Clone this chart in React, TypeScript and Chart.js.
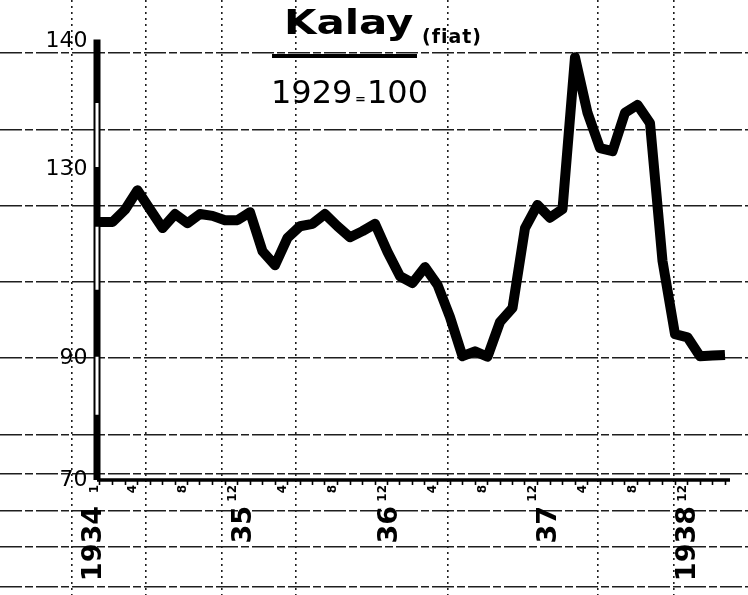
import React, { useEffect, useRef } from 'react';
import { Chart, registerables } from 'chart.js';

Chart.register(...registerables);

// Months counted from January 1934 (0 = 1934/1 ... 50 = 1938/3)
const monthIndex = [
  0, 1, 2, 3, 4, 5, 6, 7, 8, 9, 10, 11,
  12, 13, 14, 15, 16, 17, 18, 19, 20, 21, 22, 23,
  24, 25, 26, 27, 28, 29, 30, 31, 32, 33, 34, 35,
  36, 37, 38, 39, 40, 41, 42, 43, 44, 45, 46, 47,
  48, 49, 50,
];

// Tin price index (1929 = 100)
const tinPriceIndex = [
  112.3, 112.3, 114.3, 117.5, 114.4, 111.3, 113.6, 112.1, 113.6, 113.3, 112.6, 112.6,
  113.9, 107.5, 105.2, 109.7, 111.6, 112.0, 113.6, 111.6, 109.8, 110.8, 112.0, 107.4,
  103.4, 102.3, 104.9, 102.0, 96.7, 90.3, 91.1, 90.2, 95.9, 98.2, 111.3, 115.1,
  113.0, 114.4, 139.3, 130.2, 124.4, 123.9, 130.2, 131.5, 128.5, 105.9, 93.9, 93.4,
  90.3, 90.4, 90.5,
];

const monthTickPositions = [0, 3, 7, 11, 15, 19, 23, 27, 31, 35, 39, 43, 47];
const monthTickLabels = ['1', '4', '8', '12', '4', '8', '12', '4', '8', '12', '4', '8', '12'];

const yearTickPositions = [-0.5, 11.5, 23.2, 35.9, 47];
const yearTickLabels = ['1934', '35', '36', '37', '1938'];

const yTickValues = [70, 90, 121, 142];
const yTickLabels = ['70', '90', '130', '140'];

// ruled lines of the graph paper
const paperRulesY = [140, 127.5, 115, 102.5, 90, 77.5, 71, 65, 59, 52.5];
const paperRulesX = [-2.25, 3.7, 9.75, 15.7, 27.85, 39.85, 45.9];

// the heavy vertical axis bar and its hollow stretches
const axisBarX = [-0.24, -0.24];
const axisBarY = [70, 142.2];
const axisHollowX = [-0.24, -0.24, -0.24, -0.24, -0.24, -0.24, -0.24, -0.24];
const axisHollowY = [131.8, 121.3, null, 111.5, 101.2, null, 90.2, 80.7];

// the heavy base line
const baseLineX = [-0.24, 50.4];
const baseLineY = [70, 70];

const X_MIN = -8;
const X_MAX = 51.84;
const Y_MIN = 51.15;
const Y_MAX = 148.69;

const titleText = 'Kalay';
const titleNote = '(fiat)';
const baseYearText = ['1929', '=', '100'];

const titlePlugin = {
  id: 'paperTitle',
  afterDraw(chart: any) {
    const ctx = chart.ctx as CanvasRenderingContext2D;
    ctx.save();
    ctx.fillStyle = '#000';
    ctx.textBaseline = 'alphabetic';
    ctx.textAlign = 'left';
    ctx.save();
    ctx.translate(284, 34);
    ctx.scale(1.27, 1);
    ctx.font = 'bold 33px "DejaVu Sans"';
    ctx.fillText(titleText, 0, 0);
    ctx.restore();
    ctx.fillRect(272, 54, 145, 4);
    (ctx as any).letterSpacing = '1px';
    ctx.font = 'bold 19px "DejaVu Sans"';
    ctx.fillText(titleNote, 422, 43);
    (ctx as any).letterSpacing = '0px';
    ctx.font = '32px "DejaVu Sans"';
    ctx.fillText(baseYearText[0], 271, 103);
    ctx.font = 'bold 13px "DejaVu Sans"';
    ctx.fillText(baseYearText[1], 355, 103);
    ctx.font = '32px "DejaVu Sans"';
    ctx.fillText(baseYearText[2], 367, 103);
    ctx.restore();
  },
};

const noPadding = (scale: any) => {
  scale.paddingTop = 0;
  scale.paddingBottom = 0;
  scale.paddingLeft = 0;
  scale.paddingRight = 0;
};

export default function App() {
  const canvasRef = useRef<HTMLCanvasElement | null>(null);

  useEffect(() => {
    document.body.style.margin = '0';
    document.body.style.background = '#fff';
    const canvas = canvasRef.current;
    if (!canvas) return;
    Chart.defaults.font.family = '"DejaVu Sans", sans-serif';

    const gridAxis = (horizontalRules: boolean, values: number[]) => ({
      type: 'linear',
      axis: horizontalRules ? 'y' : 'x',
      min: horizontalRules ? Y_MIN : X_MIN,
      max: horizontalRules ? Y_MAX : X_MAX,
      position: horizontalRules ? { x: X_MIN } : { y: Y_MIN },
      ticks: { display: false },
      grid: {
        display: true,
        drawTicks: false,
        color: '#1e1e1e',
        lineWidth: horizontalRules ? 1.4 : 1.6,
      },
      border: { display: false, dash: horizontalRules ? [22, 3, 8, 3] : [2, 4] },
      afterBuildTicks: (scale: any) => {
        scale.ticks = values.map((v) => ({ value: v }));
      },
      afterFit: noPadding,
    });

    const chart = new Chart(canvas, {
      type: 'line',
      data: {
        datasets: [
          {
            label: 'Kalay',
            data: monthIndex.map((m, i) => ({ x: m, y: tinPriceIndex[i] })),
            borderColor: '#000',
            borderWidth: 10,
            borderJoinStyle: 'round',
            borderCapStyle: 'butt',
            pointRadius: 0,
            tension: 0,
            xAxisID: 'x',
            yAxisID: 'y',
          },
          {
            label: 'hollow',
            data: axisHollowY.map((y, i) => ({ x: axisHollowX[i], y })),
            borderColor: '#fff',
            borderWidth: 3,
            pointRadius: 0,
            spanGaps: false,
            xAxisID: 'x',
            yAxisID: 'y',
          },
          {
            label: 'axis',
            data: axisBarY.map((y, i) => ({ x: axisBarX[i], y })),
            borderColor: '#000',
            borderWidth: 7,
            borderCapStyle: 'butt',
            pointRadius: 0,
            xAxisID: 'x',
            yAxisID: 'y',
          },
          {
            label: 'base',
            data: baseLineY.map((y, i) => ({ x: baseLineX[i], y })),
            borderColor: '#000',
            borderWidth: 3.5,
            pointRadius: 0,
            xAxisID: 'x',
            yAxisID: 'y',
          },
        ],
      },
      options: {
        animation: false,
        responsive: false,
        maintainAspectRatio: false,
        layout: { padding: 0 },
        plugins: {
          legend: { display: false },
          tooltip: { enabled: false },
          title: { display: false },
        },
        scales: {
          x: { type: 'linear', axis: 'x', min: X_MIN, max: X_MAX, display: false, afterFit: noPadding },
          y: {
            type: 'linear',
            axis: 'y',
            min: Y_MIN,
            max: Y_MAX,
            position: { x: -1.0 },
            grid: { display: false, drawTicks: false },
            border: { display: false },
            ticks: {
              color: '#000',
              padding: 0,
              autoSkip: false,
              font: { size: 22 },
              callback: (v: any) => {
                const i = yTickValues.indexOf(Number(v));
                return i >= 0 ? yTickLabels[i] : '';
              },
            },
            afterBuildTicks: (scale: any) => {
              scale.ticks = yTickValues.map((v) => ({ value: v }));
            },
            afterFit: noPadding,
          },
          xm: {
            type: 'linear',
            axis: 'x',
            min: X_MIN,
            max: X_MAX,
            position: { y: 70 },
            grid: {
              display: true,
              drawOnChartArea: false,
              drawTicks: true,
              tickLength: 5,
              tickWidth: 1.6,
              tickColor: '#000',
            },
            border: { display: false },
            ticks: {
              autoSkip: false,
              minRotation: 90,
              maxRotation: 90,
              padding: 0,
              labelOffset: -5,
              color: '#000',
              font: { size: 12, weight: 'bold' },
              callback: (v: any) => {
                const i = monthTickPositions.indexOf(Number(v));
                return i >= 0 ? monthTickLabels[i] : '';
              },
            },
            afterBuildTicks: (scale: any) => {
              scale.ticks = monthIndex.map((v) => ({ value: v }));
            },
            afterFit: noPadding,
          },
          xy: {
            type: 'linear',
            axis: 'x',
            min: X_MIN,
            max: X_MAX,
            position: { y: 70 },
            grid: { display: false, drawTicks: false },
            border: { display: false },
            ticks: {
              autoSkip: false,
              minRotation: 90,
              maxRotation: 90,
              padding: 26,
              color: '#000',
              font: { size: 27, weight: 'bold' },
              callback: (v: any) => {
                const i = yearTickPositions.indexOf(Number(v));
                return i >= 0 ? yearTickLabels[i] : '';
              },
            },
            afterBuildTicks: (scale: any) => {
              scale.ticks = yearTickPositions.map((v) => ({ value: v }));
            },
            afterFit: noPadding,
          },
          gy: gridAxis(true, paperRulesY),
          gx: gridAxis(false, paperRulesX),
        },
      } as any,
      plugins: [titlePlugin],
    });

    return () => {
      chart.destroy();
    };
  }, []);

  return (
    <div style={{ position: 'relative', width: 748, height: 595 }}>
      <canvas ref={canvasRef} width={748} height={595} />
    </div>
  );
}
